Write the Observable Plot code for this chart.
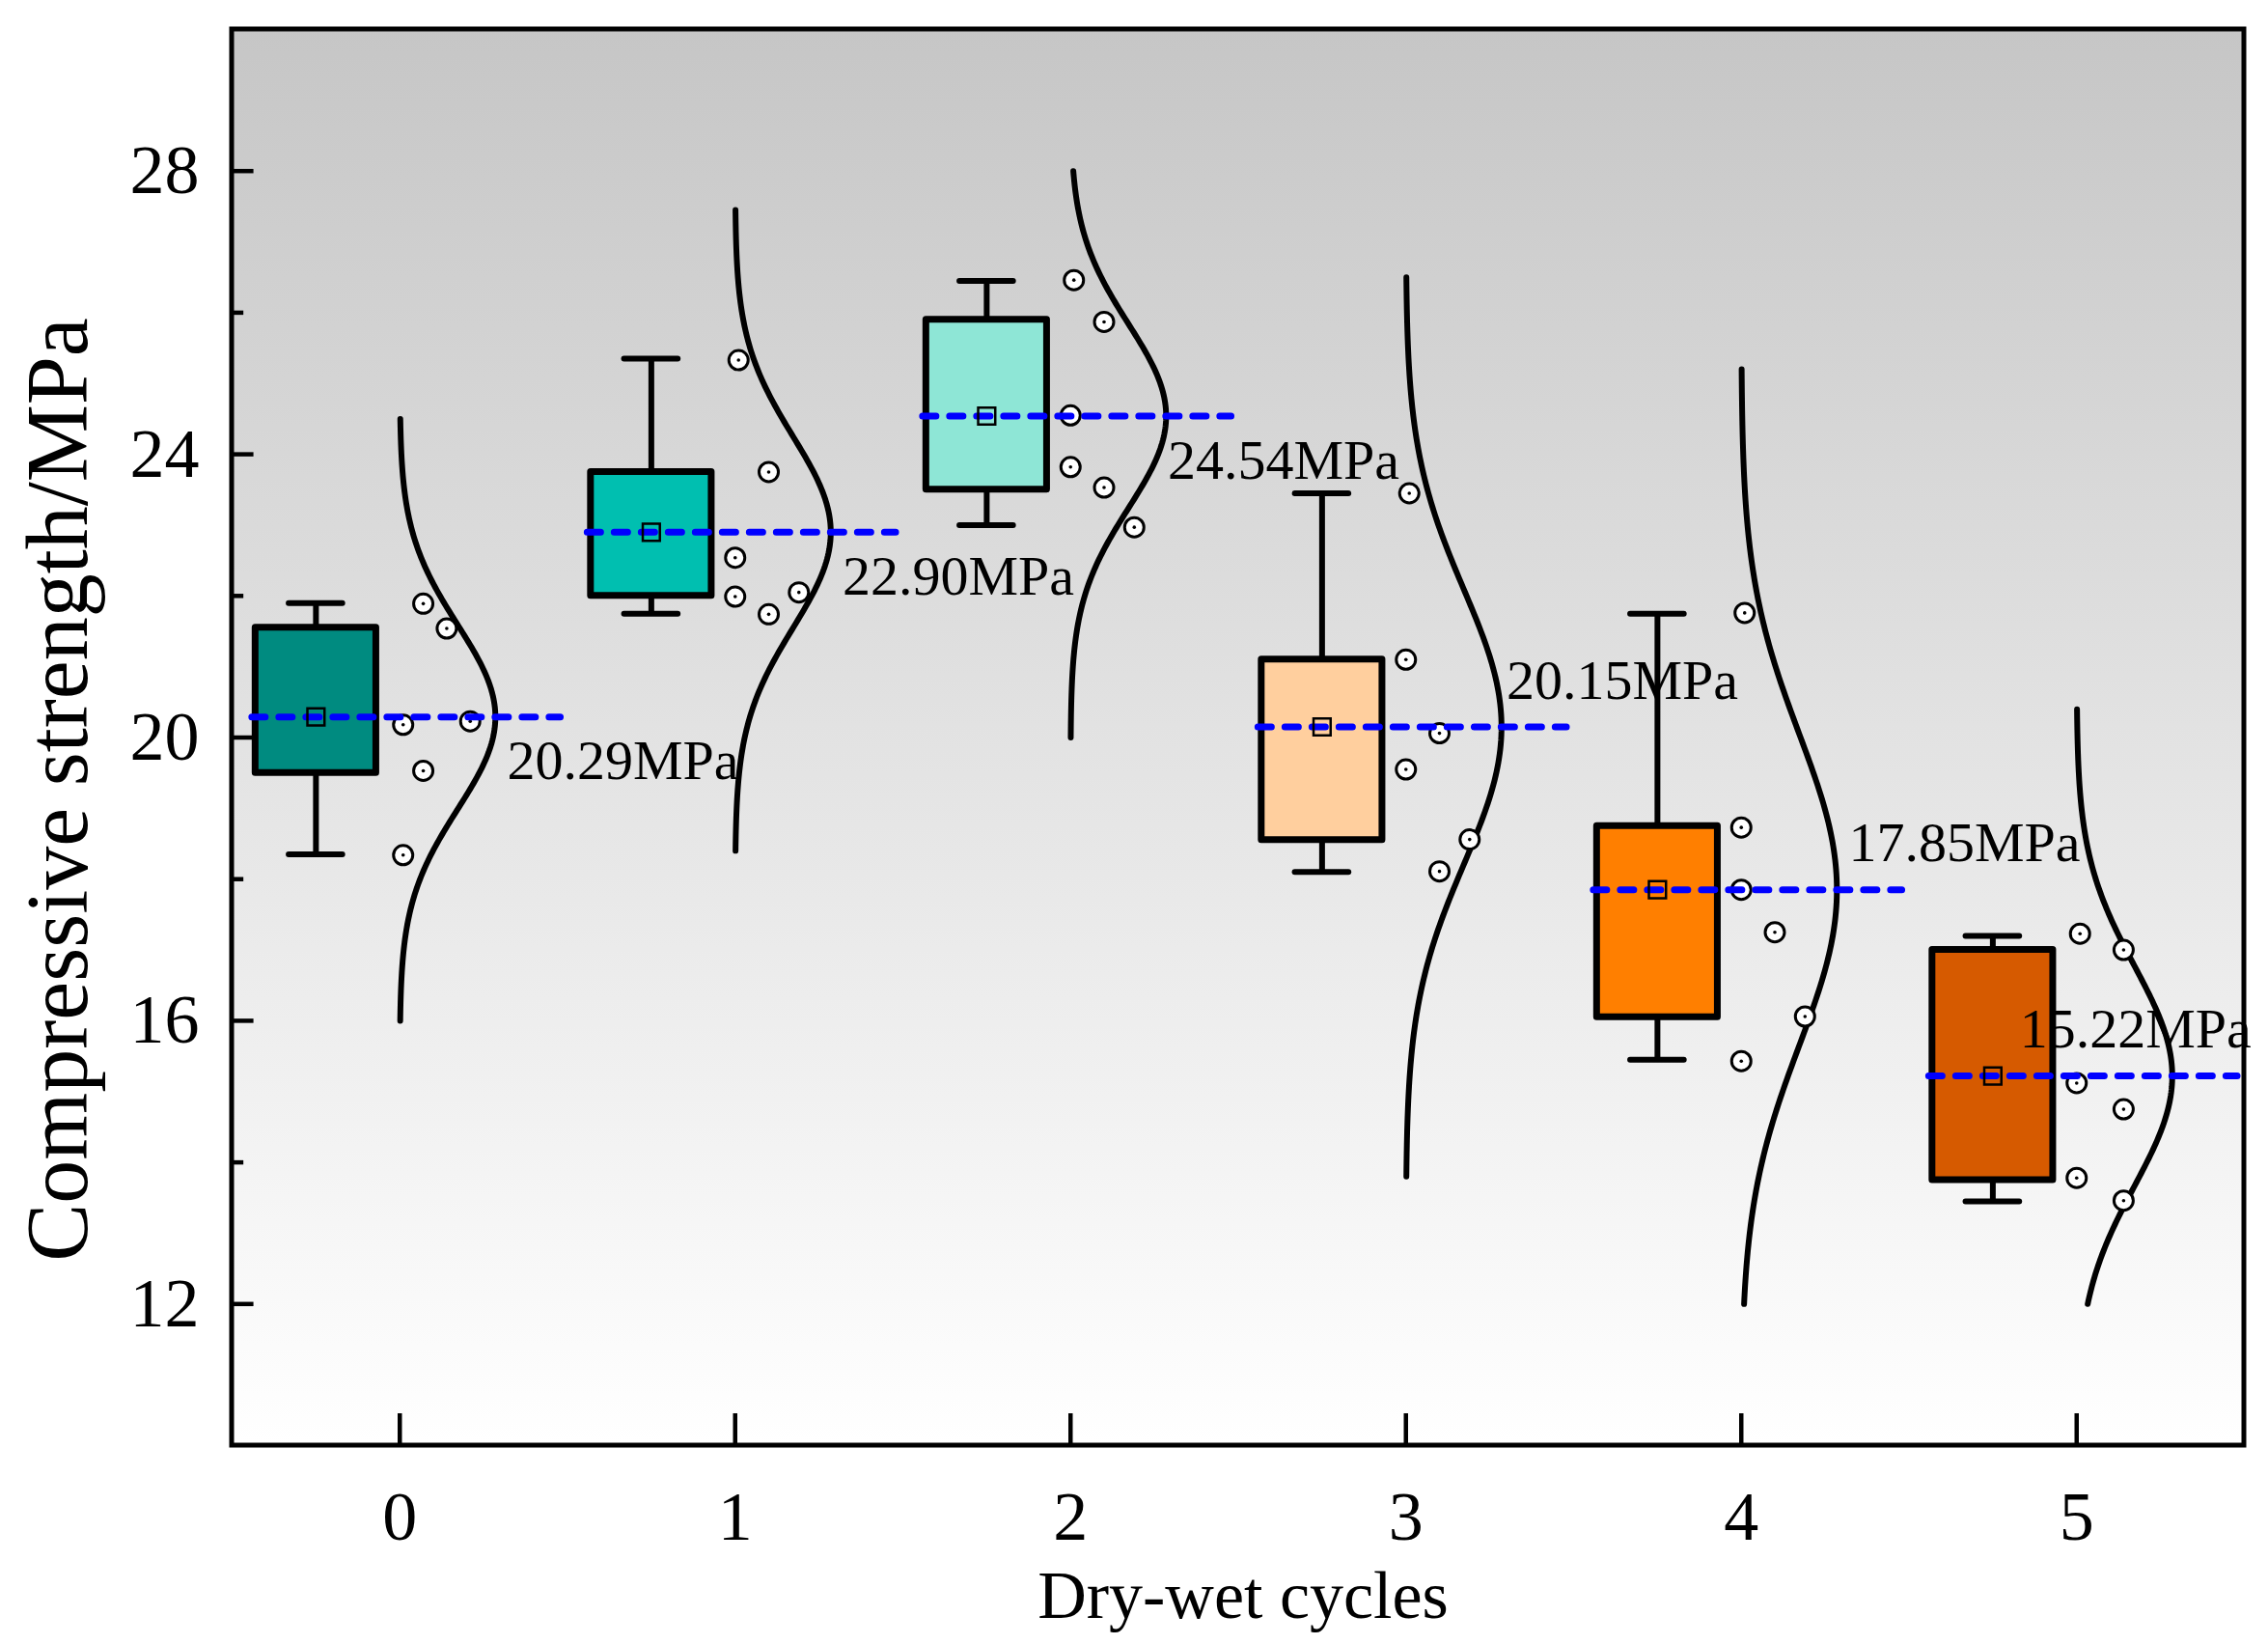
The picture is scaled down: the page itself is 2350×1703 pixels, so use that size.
<!DOCTYPE html>
<html><head><meta charset="utf-8">
<script src="https://cdn.jsdelivr.net/npm/d3@7"></script>
<script src="https://cdn.jsdelivr.net/npm/@observablehq/plot@0.6"></script>
<style>body{margin:0;background:#fff}</style>
</head><body><div id="c"></div>
<script>
const cycles = [0,1,2,3,4,5];
const colors = ["#008b80","#00bfb0","#8ee6d6","#ffcf9e","#ff7f00","#d65a00"];
const boxLow = [19.5,22.0,23.5,18.55,16.05,13.75];
const boxHigh = [21.55,23.75,25.9,21.1,18.75,17.0];
const whiskLow = [18.35,21.75,23.0,18.1,15.45,13.45];
const whiskHigh = [21.9,25.35,26.45,23.45,21.75,17.2];
const means = [20.29,22.90,24.54,20.15,17.85,15.22];
const meanLabels = ["20.29MPa","22.90MPa","24.54MPa","20.15MPa","17.85MPa","15.22MPa"];
const labelAbove = [false,false,false,true,true,true];
const labelOffset = [0.32,0.32,0.29,0.3,0.32,-0.17];
const ptOffsets = [
 [0.07,0.14,0.01,0.21,0.07,0.01],
 [0.01,0.10,0.0,0.0,0.10,0.19],
 [0.01,0.10,0.0,0.0,0.10,0.19],
 [0.01,0.0,0.10,0.0,0.19,0.10],
 [0.01,0.0,0.0,0.10,0.19,0.0],
 [0.01,0.14,0.0,0.14,0.0,0.14]];
const ptValues = [
 [21.89,21.54,20.18,20.23,19.53,18.34],
 [25.33,23.75,22.54,21.99,21.74,22.05],
 [26.46,25.87,24.55,23.82,23.53,22.97],
 [23.45,21.10,20.06,19.55,18.56,18.11],
 [21.76,18.73,17.85,17.25,16.06,15.43],
 [17.23,17.00,15.12,14.75,13.78,13.46]];
const curveLo = [16.0,18.4,20.0,13.8,12.0,12.0];
const curveHi = [24.5,27.45,28.0,26.5,25.2,20.4];
const curveSd = [1.30,1.35,1.30,1.94,2.2,1.55];
const curvePeak = 0.285;
const yTicks = [12,16,20,24,28];
const yMinor = [14,18,22,26];

const boxes = cycles.map((c,i)=>({c,x1:c-0.43,x2:c-0.07,lo:boxLow[i],hi:boxHigh[i],wl:whiskLow[i],wh:whiskHigh[i],m:means[i],col:colors[i],lab:meanLabels[i],above:labelAbove[i],lx:c+labelOffset[i]}));
const pts = cycles.flatMap((c,i)=>ptValues[i].map((v,j)=>({x:c+ptOffsets[i][j],y:v})));
const curves = cycles.flatMap((c,i)=>{const n=200,a=[];for(let k=0;k<=n;k++){const y=curveLo[i]+(curveHi[i]-curveLo[i])*k/n;const z=(y-means[i])/curveSd[i];a.push({c,y,x:c+curvePeak*Math.exp(-0.5*z*z)});}return a;});

const serif = "Liberation Serif, Times New Roman, serif";
const chart = Plot.plot({
  width:2350, height:1703, marginLeft:240, marginRight:25, marginTop:30, marginBottom:206,
  x:{domain:[-0.5,5.5], axis:null},
  y:{domain:[10,30], axis:null},
  style:{fontFamily:serif, background:"transparent"},
  marks:[
    Plot.frame({fill:"url(#bg)", stroke:null}),
    Plot.text(yTicks,{x:-0.5,y:d=>d,text:d=>String(d),textAnchor:"end",dx:-34,fontSize:72}),
    Plot.text(cycles,{x:d=>d,y:10,text:d=>String(d),dy:74,fontSize:72}),
    Plot.ruleY(yTicks,{y:d=>d,x1:-0.5,x2:-0.5+0.065,stroke:"black",strokeWidth:4.5}),
    Plot.ruleY(yMinor,{y:d=>d,x1:-0.5,x2:-0.5+0.035,stroke:"black",strokeWidth:4.5}),
    Plot.ruleX(cycles,{x:d=>d,y1:10,y2:10.45,stroke:"black",strokeWidth:4.5}),
    Plot.ruleX(boxes,{x:d=>d.c-0.25,y1:"wl",y2:"lo",stroke:"black",strokeWidth:6}),
    Plot.ruleX(boxes,{x:d=>d.c-0.25,y1:"hi",y2:"wh",stroke:"black",strokeWidth:6}),
    Plot.ruleY(boxes,{y:"wl",x1:d=>d.c-0.33,x2:d=>d.c-0.17,stroke:"black",strokeWidth:6,strokeLinecap:"round"}),
    Plot.ruleY(boxes,{y:"wh",x1:d=>d.c-0.33,x2:d=>d.c-0.17,stroke:"black",strokeWidth:6,strokeLinecap:"round"}),
    Plot.rect(boxes,{x1:"x1",x2:"x2",y1:"lo",y2:"hi",fill:"col",stroke:"black",strokeWidth:7,strokeLinejoin:"round"}),
    Plot.line(curves,{x:"x",y:"y",z:"c",stroke:"black",strokeWidth:6,strokeLinecap:"round"}),
    Plot.dot(pts,{x:"x",y:"y",r:10,fill:"white",stroke:"black",strokeWidth:3}),
    Plot.dot(pts,{x:"x",y:"y",r:1.8,fill:"black"}),
    Plot.ruleY(boxes,{y:"m",x1:d=>d.c-0.44,x2:d=>d.c+0.48,stroke:"#0000ff",strokeWidth:7,strokeDasharray:"14,14",strokeLinecap:"round"}),
    Plot.dot(boxes,{x:d=>d.c-0.25,y:"m",symbol:"square",r:10,fill:"none",stroke:"black",strokeWidth:2.5}),
    Plot.text(boxes.filter(d=>!d.above),{x:"lx",y:"m",text:"lab",textAnchor:"start",dy:46,fontSize:58}),
    Plot.text(boxes.filter(d=>d.above),{x:"lx",y:"m",text:"lab",textAnchor:"start",dy:-48,fontSize:58})
  ]
});
const svg = d3.select(chart);
const defs = svg.insert("defs",":first-child");
const g = defs.append("linearGradient").attr("id","bg").attr("x1",0).attr("y1",0).attr("x2",0).attr("y2",1);
g.append("stop").attr("offset","0%").attr("stop-color","#c6c6c6");
g.append("stop").attr("offset","100%").attr("stop-color","#ffffff");
svg.append("rect").attr("x",240).attr("y",30).attr("width",2350-240-25).attr("height",1703-30-206)
  .attr("fill","none").attr("stroke","black").attr("stroke-width",5);
svg.append("text").attr("transform","translate(90,818) rotate(-90)").attr("text-anchor","middle")
  .attr("font-family",serif).attr("font-size",90).text("Compressive strength/MPa");
svg.append("text").attr("x",1288).attr("y",1676).attr("text-anchor","middle")
  .attr("font-family",serif).attr("font-size",70).text("Dry-wet cycles");
document.getElementById("c").appendChild(chart);
</script></body></html>
